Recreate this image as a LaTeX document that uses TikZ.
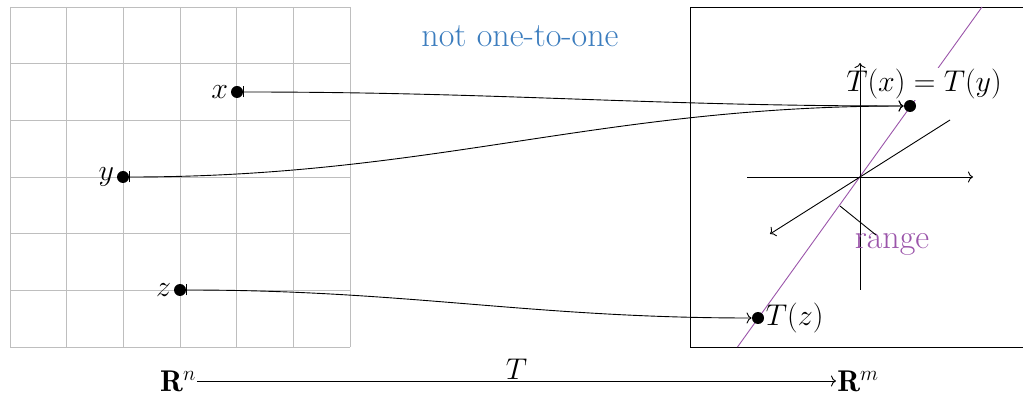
\RequirePackage{fix-cm}
\documentclass[tikz,border=0pt]{standalone}
\usepackage{fontspec}
\usetikzlibrary{arrows.meta}
\definecolor{gridc}{RGB}{190,190,190}
\definecolor{rangec}{RGB}{155,85,170}
\definecolor{bluec}{RGB}{60,125,190}
\begin{document}
\begin{tikzpicture}[x=1pt,y=-1pt,
  font=\fontsize{30}{36}\selectfont,
  line width=0.9pt,
  >={To[length=5pt,width=11pt]},
  dot/.style={circle,fill=black,inner sep=0pt,minimum size=12pt},
  gridline/.style={gridc,line width=0.9pt},
  mapsto/.style={{Bar[width=11pt]}->},
  axis/.style={line width=0.9pt},
  bigtext/.style={font=\fontsize{34}{40}\selectfont}]
\useasboundingbox (0,0) rectangle (1023,395);
% grid
\foreach \i in {0,...,6}{
  \draw[gridline] ({10+\i*56.667},7) -- ({10+\i*56.667},347);
  \draw[gridline] (10,{7+\i*56.667}) -- (350,{7+\i*56.667});
}
% right frame
\draw[line width=0.9pt] (1025,7) -- (690,7) -- (690,347) -- (1025,347);
% range line
\draw[rangec,line width=0.9pt] (737.5,347) -- (982,7);
% points
\node[dot] (px) at (237,92) {};
\node[dot] (py) at (123,177) {};
\node[dot] (pz) at (180,290) {};
\node[anchor=east,inner sep=2pt] (lx) at (px.west) {$x$};
\node[anchor=east,inner sep=2pt] (ly) at (py.west) {$y$};
\node[anchor=east,inner sep=2pt] (lz) at (pz.west) {$z$};
% images
\node[dot] (tx) at (910,106) {};
\node[dot] (tz) at (758,318) {};
\node[fill=white,inner sep=1pt] (ltx) at (924,84) {$T(x)=T(y)$};
\node[anchor=west,inner sep=1pt] (ltz) at (tz.east) {$T(z)$};
% axes
\coordinate (o) at (860,177);
\coordinate (xl) at (747,177);
\coordinate (xr) at (973,177);
\coordinate (yb) at (860,290);
\coordinate (yt) at (860,63);
\coordinate (zf) at (950,120);
\coordinate (zb) at (770,234);
\draw[axis,->] (xl) -- (xr);
\draw[axis,->] (yb) -- (yt);
\draw[axis,->] (zf) -- (zb);
% range label
\node[rangec,bigtext,inner sep=0pt] (rl) at (892,244) {range};
\coordinate (rp) at (840,206);
\coordinate (rq) at (876,235);
\draw[line width=0.9pt] (rp) -- (rq);
% title
\node[bluec,bigtext] (title) at (520,36) {not one-to-one};
% maps
\draw[mapsto] (px) to[out=0,in=180] (tx);
\draw[mapsto] (py) to[out=0,in=180] (tx);
\draw[mapsto] (pz) to[out=0,in=180] (tz);
% bottom
\node[inner sep=1pt] (rn) at (178,381) {$\mathbf{R}^n$};
\node[inner sep=1pt] (rm) at (858,381) {$\mathbf{R}^m$};
\draw[->] (rn.east) -- node[above,inner sep=1pt] (tl) {$T$} (rm.west);
\end{tikzpicture}
\end{document}
